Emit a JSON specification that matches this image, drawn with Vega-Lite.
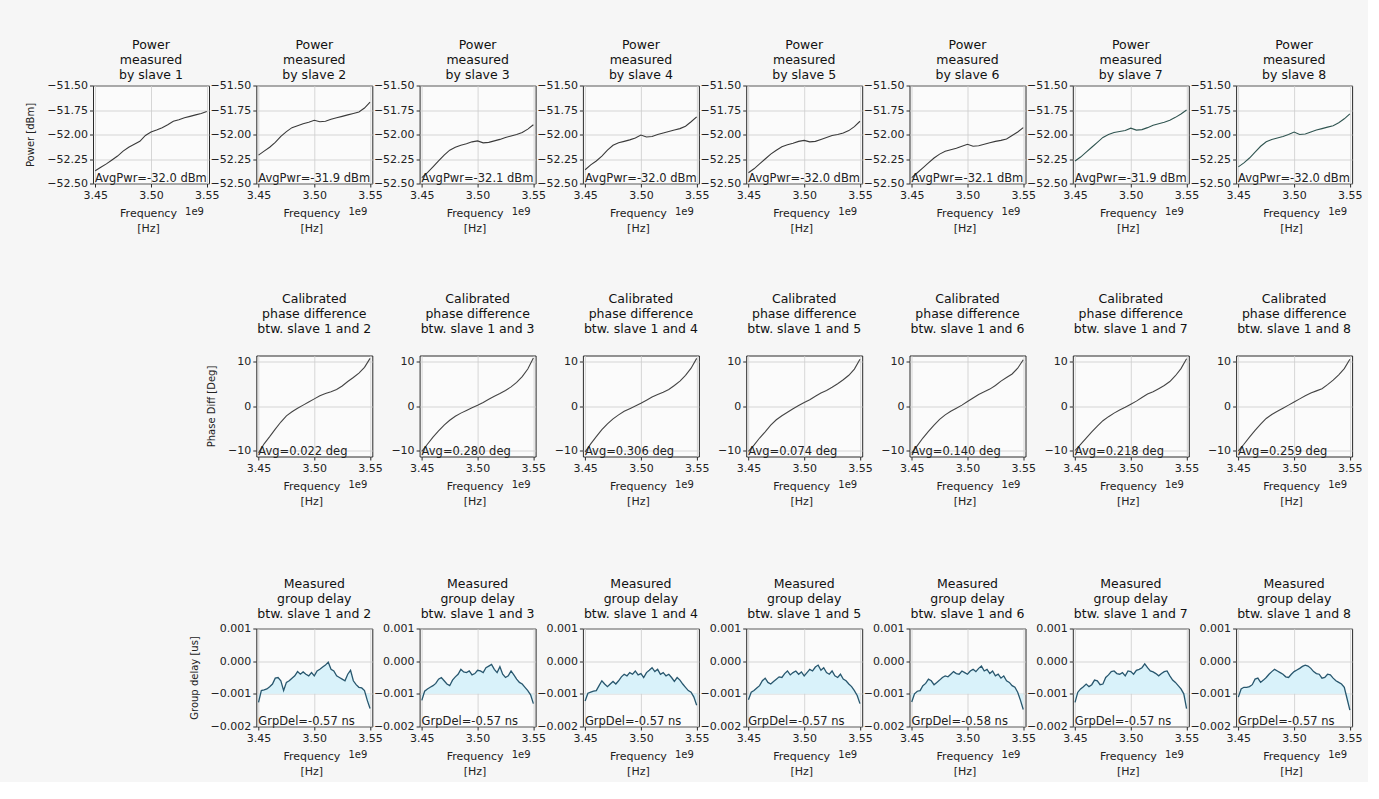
{
"$schema":"https://vega.github.io/schema/vega-lite/v6.json",
"background":"#f6f6f6",
"padding":{"left":25,"top":38.5,"right":5,"bottom":5},
"config":{"font":"DejaVu Sans","view":{"stroke":"#2a2a2a","strokeWidth":1,"fill":"#fbfbfb"},
"axis":{"grid":true,"gridColor":"#cdcdcd","gridWidth":0.8,"domain":false,"tickColor":"#2a2a2a","tickSize":3.5,"labelFontSize":11,"labelColor":"#222","labelPadding":2,"titleFontSize":11,"titleFontWeight":"normal","titleColor":"#222","labelFlush":false,"labelOverlap":false},
"axisY":{"titlePadding":11,"titleFontSize":10},
"axisX":{"titlePadding":7,"titleLineHeight":15,"titleX":55},
"text":{"fontSize":11.5,"color":"#222"},
"title":{"fontSize":12.5,"fontWeight":"normal","color":"#111","lineHeight":15}},
"datasets":{
"pwr":[
{"p":1,"f":3.45,"v":-52.37},{"p":1,"f":3.455,"v":-52.335},{"p":1,"f":3.46,"v":-52.3},{"p":1,"f":3.465,"v":-52.26},{"p":1,"f":3.47,"v":-52.22},{"p":1,"f":3.475,"v":-52.17},{"p":1,"f":3.48,"v":-52.13},{"p":1,"f":3.485,"v":-52.1},{"p":1,"f":3.49,"v":-52.07},{"p":1,"f":3.495,"v":-52.01},{"p":1,"f":3.5,"v":-51.975},{"p":1,"f":3.505,"v":-51.955},{"p":1,"f":3.51,"v":-51.93},{"p":1,"f":3.515,"v":-51.9},{"p":1,"f":3.52,"v":-51.865},{"p":1,"f":3.525,"v":-51.85},{"p":1,"f":3.53,"v":-51.83},{"p":1,"f":3.535,"v":-51.815},{"p":1,"f":3.54,"v":-51.8},{"p":1,"f":3.545,"v":-51.785},{"p":1,"f":3.55,"v":-51.765},
{"p":2,"f":3.45,"v":-52.21},{"p":2,"f":3.455,"v":-52.17},{"p":2,"f":3.46,"v":-52.13},{"p":2,"f":3.465,"v":-52.08},{"p":2,"f":3.47,"v":-52.02},{"p":2,"f":3.475,"v":-51.97},{"p":2,"f":3.48,"v":-51.93},{"p":2,"f":3.485,"v":-51.91},{"p":2,"f":3.49,"v":-51.89},{"p":2,"f":3.495,"v":-51.875},{"p":2,"f":3.5,"v":-51.855},{"p":2,"f":3.505,"v":-51.87},{"p":2,"f":3.51,"v":-51.865},{"p":2,"f":3.515,"v":-51.845},{"p":2,"f":3.52,"v":-51.83},{"p":2,"f":3.525,"v":-51.815},{"p":2,"f":3.53,"v":-51.8},{"p":2,"f":3.535,"v":-51.785},{"p":2,"f":3.54,"v":-51.77},{"p":2,"f":3.545,"v":-51.73},{"p":2,"f":3.55,"v":-51.67},
{"p":3,"f":3.45,"v":-52.44},{"p":3,"f":3.455,"v":-52.39},{"p":3,"f":3.46,"v":-52.33},{"p":3,"f":3.465,"v":-52.27},{"p":3,"f":3.47,"v":-52.21},{"p":3,"f":3.475,"v":-52.16},{"p":3,"f":3.48,"v":-52.13},{"p":3,"f":3.485,"v":-52.11},{"p":3,"f":3.49,"v":-52.095},{"p":3,"f":3.495,"v":-52.075},{"p":3,"f":3.5,"v":-52.065},{"p":3,"f":3.505,"v":-52.085},{"p":3,"f":3.51,"v":-52.08},{"p":3,"f":3.515,"v":-52.065},{"p":3,"f":3.52,"v":-52.05},{"p":3,"f":3.525,"v":-52.03},{"p":3,"f":3.53,"v":-52.015},{"p":3,"f":3.535,"v":-52.0},{"p":3,"f":3.54,"v":-51.98},{"p":3,"f":3.545,"v":-51.945},{"p":3,"f":3.55,"v":-51.9},
{"p":4,"f":3.45,"v":-52.36},{"p":4,"f":3.455,"v":-52.31},{"p":4,"f":3.46,"v":-52.27},{"p":4,"f":3.465,"v":-52.22},{"p":4,"f":3.47,"v":-52.16},{"p":4,"f":3.475,"v":-52.11},{"p":4,"f":3.48,"v":-52.085},{"p":4,"f":3.485,"v":-52.07},{"p":4,"f":3.49,"v":-52.055},{"p":4,"f":3.495,"v":-52.035},{"p":4,"f":3.5,"v":-52.005},{"p":4,"f":3.505,"v":-52.025},{"p":4,"f":3.51,"v":-52.02},{"p":4,"f":3.515,"v":-52.0},{"p":4,"f":3.52,"v":-51.985},{"p":4,"f":3.525,"v":-51.97},{"p":4,"f":3.53,"v":-51.955},{"p":4,"f":3.535,"v":-51.94},{"p":4,"f":3.54,"v":-51.915},{"p":4,"f":3.545,"v":-51.87},{"p":4,"f":3.55,"v":-51.82},
{"p":5,"f":3.45,"v":-52.39},{"p":5,"f":3.455,"v":-52.35},{"p":5,"f":3.46,"v":-52.3},{"p":5,"f":3.465,"v":-52.25},{"p":5,"f":3.47,"v":-52.2},{"p":5,"f":3.475,"v":-52.16},{"p":5,"f":3.48,"v":-52.125},{"p":5,"f":3.485,"v":-52.105},{"p":5,"f":3.49,"v":-52.09},{"p":5,"f":3.495,"v":-52.07},{"p":5,"f":3.5,"v":-52.06},{"p":5,"f":3.505,"v":-52.075},{"p":5,"f":3.51,"v":-52.07},{"p":5,"f":3.515,"v":-52.05},{"p":5,"f":3.52,"v":-52.03},{"p":5,"f":3.525,"v":-52.01},{"p":5,"f":3.53,"v":-52.0},{"p":5,"f":3.535,"v":-51.985},{"p":5,"f":3.54,"v":-51.96},{"p":5,"f":3.545,"v":-51.92},{"p":5,"f":3.55,"v":-51.865},
{"p":6,"f":3.45,"v":-52.44},{"p":6,"f":3.455,"v":-52.39},{"p":6,"f":3.46,"v":-52.34},{"p":6,"f":3.465,"v":-52.29},{"p":6,"f":3.47,"v":-52.24},{"p":6,"f":3.475,"v":-52.2},{"p":6,"f":3.48,"v":-52.17},{"p":6,"f":3.485,"v":-52.155},{"p":6,"f":3.49,"v":-52.14},{"p":6,"f":3.495,"v":-52.12},{"p":6,"f":3.5,"v":-52.1},{"p":6,"f":3.505,"v":-52.12},{"p":6,"f":3.51,"v":-52.115},{"p":6,"f":3.515,"v":-52.1},{"p":6,"f":3.52,"v":-52.085},{"p":6,"f":3.525,"v":-52.07},{"p":6,"f":3.53,"v":-52.06},{"p":6,"f":3.535,"v":-52.045},{"p":6,"f":3.54,"v":-52.01},{"p":6,"f":3.545,"v":-51.975},{"p":6,"f":3.55,"v":-51.93},
{"p":7,"f":3.45,"v":-52.27},{"p":7,"f":3.455,"v":-52.23},{"p":7,"f":3.46,"v":-52.18},{"p":7,"f":3.465,"v":-52.13},{"p":7,"f":3.47,"v":-52.08},{"p":7,"f":3.475,"v":-52.03},{"p":7,"f":3.48,"v":-52.0},{"p":7,"f":3.485,"v":-51.98},{"p":7,"f":3.49,"v":-51.97},{"p":7,"f":3.495,"v":-51.96},{"p":7,"f":3.5,"v":-51.935},{"p":7,"f":3.505,"v":-51.955},{"p":7,"f":3.51,"v":-51.95},{"p":7,"f":3.515,"v":-51.93},{"p":7,"f":3.52,"v":-51.905},{"p":7,"f":3.525,"v":-51.89},{"p":7,"f":3.53,"v":-51.875},{"p":7,"f":3.535,"v":-51.855},{"p":7,"f":3.54,"v":-51.825},{"p":7,"f":3.545,"v":-51.79},{"p":7,"f":3.55,"v":-51.75},
{"p":8,"f":3.45,"v":-52.33},{"p":8,"f":3.455,"v":-52.29},{"p":8,"f":3.46,"v":-52.24},{"p":8,"f":3.465,"v":-52.18},{"p":8,"f":3.47,"v":-52.12},{"p":8,"f":3.475,"v":-52.075},{"p":8,"f":3.48,"v":-52.05},{"p":8,"f":3.485,"v":-52.035},{"p":8,"f":3.49,"v":-52.02},{"p":8,"f":3.495,"v":-52.0},{"p":8,"f":3.5,"v":-51.975},{"p":8,"f":3.505,"v":-52.0},{"p":8,"f":3.51,"v":-51.995},{"p":8,"f":3.515,"v":-51.975},{"p":8,"f":3.52,"v":-51.955},{"p":8,"f":3.525,"v":-51.94},{"p":8,"f":3.53,"v":-51.925},{"p":8,"f":3.535,"v":-51.91},{"p":8,"f":3.54,"v":-51.88},{"p":8,"f":3.545,"v":-51.84},{"p":8,"f":3.55,"v":-51.79}
],
"phs":[
{"p":2,"f":3.45,"v":-10.5},{"p":2,"f":3.455,"v":-8.5},{"p":2,"f":3.46,"v":-6.9},{"p":2,"f":3.465,"v":-5.2},{"p":2,"f":3.47,"v":-3.6},{"p":2,"f":3.475,"v":-2.2},{"p":2,"f":3.48,"v":-1.3},{"p":2,"f":3.485,"v":-0.5},{"p":2,"f":3.49,"v":0.2},{"p":2,"f":3.495,"v":0.9},{"p":2,"f":3.5,"v":1.6},{"p":2,"f":3.505,"v":2.3},{"p":2,"f":3.51,"v":2.8},{"p":2,"f":3.515,"v":3.2},{"p":2,"f":3.52,"v":3.7},{"p":2,"f":3.525,"v":4.5},{"p":2,"f":3.53,"v":5.5},{"p":2,"f":3.535,"v":6.4},{"p":2,"f":3.54,"v":7.4},{"p":2,"f":3.545,"v":8.7},{"p":2,"f":3.55,"v":10.7},
{"p":3,"f":3.45,"v":-10.2},{"p":3,"f":3.455,"v":-8.6},{"p":3,"f":3.46,"v":-7.0},{"p":3,"f":3.465,"v":-5.6},{"p":3,"f":3.47,"v":-4.3},{"p":3,"f":3.475,"v":-3.2},{"p":3,"f":3.48,"v":-2.3},{"p":3,"f":3.485,"v":-1.6},{"p":3,"f":3.49,"v":-1.0},{"p":3,"f":3.495,"v":-0.4},{"p":3,"f":3.5,"v":0.15},{"p":3,"f":3.505,"v":0.8},{"p":3,"f":3.51,"v":1.5},{"p":3,"f":3.515,"v":2.2},{"p":3,"f":3.52,"v":2.8},{"p":3,"f":3.525,"v":3.5},{"p":3,"f":3.53,"v":4.3},{"p":3,"f":3.535,"v":5.3},{"p":3,"f":3.54,"v":6.6},{"p":3,"f":3.545,"v":8.3},{"p":3,"f":3.55,"v":10.8},
{"p":4,"f":3.45,"v":-10.3},{"p":4,"f":3.455,"v":-8.5},{"p":4,"f":3.46,"v":-6.9},{"p":4,"f":3.465,"v":-5.3},{"p":4,"f":3.47,"v":-4.0},{"p":4,"f":3.475,"v":-2.9},{"p":4,"f":3.48,"v":-2.0},{"p":4,"f":3.485,"v":-1.2},{"p":4,"f":3.49,"v":-0.6},{"p":4,"f":3.495,"v":0.0},{"p":4,"f":3.5,"v":0.6},{"p":4,"f":3.505,"v":1.3},{"p":4,"f":3.51,"v":2.0},{"p":4,"f":3.515,"v":2.6},{"p":4,"f":3.52,"v":3.1},{"p":4,"f":3.525,"v":3.7},{"p":4,"f":3.53,"v":4.6},{"p":4,"f":3.535,"v":5.6},{"p":4,"f":3.54,"v":6.9},{"p":4,"f":3.545,"v":8.5},{"p":4,"f":3.55,"v":10.7},
{"p":5,"f":3.45,"v":-10.2},{"p":5,"f":3.455,"v":-8.8},{"p":5,"f":3.46,"v":-7.2},{"p":5,"f":3.465,"v":-5.8},{"p":5,"f":3.47,"v":-4.3},{"p":5,"f":3.475,"v":-3.1},{"p":5,"f":3.48,"v":-2.2},{"p":5,"f":3.485,"v":-1.4},{"p":5,"f":3.49,"v":-0.6},{"p":5,"f":3.495,"v":0.1},{"p":5,"f":3.5,"v":0.8},{"p":5,"f":3.505,"v":1.4},{"p":5,"f":3.51,"v":2.2},{"p":5,"f":3.515,"v":2.9},{"p":5,"f":3.52,"v":3.5},{"p":5,"f":3.525,"v":4.2},{"p":5,"f":3.53,"v":5.0},{"p":5,"f":3.535,"v":5.9},{"p":5,"f":3.54,"v":6.9},{"p":5,"f":3.545,"v":8.3},{"p":5,"f":3.55,"v":10.5},
{"p":6,"f":3.45,"v":-10.6},{"p":6,"f":3.455,"v":-8.9},{"p":6,"f":3.46,"v":-7.2},{"p":6,"f":3.465,"v":-5.7},{"p":6,"f":3.47,"v":-4.3},{"p":6,"f":3.475,"v":-3.0},{"p":6,"f":3.48,"v":-2.0},{"p":6,"f":3.485,"v":-1.2},{"p":6,"f":3.49,"v":-0.5},{"p":6,"f":3.495,"v":0.2},{"p":6,"f":3.5,"v":1.0},{"p":6,"f":3.505,"v":1.8},{"p":6,"f":3.51,"v":2.6},{"p":6,"f":3.515,"v":3.2},{"p":6,"f":3.52,"v":3.8},{"p":6,"f":3.525,"v":4.6},{"p":6,"f":3.53,"v":5.6},{"p":6,"f":3.535,"v":6.4},{"p":6,"f":3.54,"v":7.2},{"p":6,"f":3.545,"v":8.5},{"p":6,"f":3.55,"v":10.4},
{"p":7,"f":3.45,"v":-10.0},{"p":7,"f":3.455,"v":-8.6},{"p":7,"f":3.46,"v":-7.2},{"p":7,"f":3.465,"v":-5.8},{"p":7,"f":3.47,"v":-4.5},{"p":7,"f":3.475,"v":-3.3},{"p":7,"f":3.48,"v":-2.4},{"p":7,"f":3.485,"v":-1.6},{"p":7,"f":3.49,"v":-0.9},{"p":7,"f":3.495,"v":-0.3},{"p":7,"f":3.5,"v":0.4},{"p":7,"f":3.505,"v":1.1},{"p":7,"f":3.51,"v":1.9},{"p":7,"f":3.515,"v":2.7},{"p":7,"f":3.52,"v":3.2},{"p":7,"f":3.525,"v":3.9},{"p":7,"f":3.53,"v":4.6},{"p":7,"f":3.535,"v":5.5},{"p":7,"f":3.54,"v":6.8},{"p":7,"f":3.545,"v":8.4},{"p":7,"f":3.55,"v":10.6},
{"p":8,"f":3.45,"v":-10.1},{"p":8,"f":3.455,"v":-8.6},{"p":8,"f":3.46,"v":-7.0},{"p":8,"f":3.465,"v":-5.5},{"p":8,"f":3.47,"v":-4.1},{"p":8,"f":3.475,"v":-2.8},{"p":8,"f":3.48,"v":-1.9},{"p":8,"f":3.485,"v":-1.2},{"p":8,"f":3.49,"v":-0.5},{"p":8,"f":3.495,"v":0.2},{"p":8,"f":3.5,"v":0.9},{"p":8,"f":3.505,"v":1.6},{"p":8,"f":3.51,"v":2.3},{"p":8,"f":3.515,"v":2.9},{"p":8,"f":3.52,"v":3.4},{"p":8,"f":3.525,"v":3.9},{"p":8,"f":3.53,"v":4.8},{"p":8,"f":3.535,"v":5.8},{"p":8,"f":3.54,"v":7.0},{"p":8,"f":3.545,"v":8.4},{"p":8,"f":3.55,"v":10.5}
],
"gd":[
{"p":2,"f":3.45,"v":-0.00126},{"p":2,"f":3.4525,"v":-0.0009},{"p":2,"f":3.455,"v":-0.00088},{"p":2,"f":3.4575,"v":-0.00085},{"p":2,"f":3.46,"v":-0.00078},{"p":2,"f":3.4625,"v":-0.0007},{"p":2,"f":3.465,"v":-0.00052},{"p":2,"f":3.4675,"v":-0.0005},{"p":2,"f":3.47,"v":-0.0006},{"p":2,"f":3.4725,"v":-0.0009},{"p":2,"f":3.475,"v":-0.00065},{"p":2,"f":3.4775,"v":-0.0006},{"p":2,"f":3.48,"v":-0.00052},{"p":2,"f":3.4825,"v":-0.00045},{"p":2,"f":3.485,"v":-0.00032},{"p":2,"f":3.4875,"v":-0.0004},{"p":2,"f":3.49,"v":-0.00033},{"p":2,"f":3.4925,"v":-0.0004},{"p":2,"f":3.495,"v":-0.00045},{"p":2,"f":3.4975,"v":-0.00035},{"p":2,"f":3.5,"v":-0.00045},{"p":2,"f":3.5025,"v":-0.0003},{"p":2,"f":3.505,"v":-0.00025},{"p":2,"f":3.5075,"v":-0.00018},{"p":2,"f":3.51,"v":-0.00012},{"p":2,"f":3.5125,"v":-0.00003},{"p":2,"f":3.515,"v":-0.00025},{"p":2,"f":3.5175,"v":-0.0003},{"p":2,"f":3.52,"v":-0.00045},{"p":2,"f":3.5225,"v":-0.0005},{"p":2,"f":3.525,"v":-0.00055},{"p":2,"f":3.5275,"v":-0.0006},{"p":2,"f":3.53,"v":-0.0004},{"p":2,"f":3.5325,"v":-0.00028},{"p":2,"f":3.535,"v":-0.0006},{"p":2,"f":3.5375,"v":-0.00072},{"p":2,"f":3.54,"v":-0.0008},{"p":2,"f":3.5425,"v":-0.00082},{"p":2,"f":3.545,"v":-0.0009},{"p":2,"f":3.5475,"v":-0.0012},{"p":2,"f":3.55,"v":-0.00145},
{"p":3,"f":3.45,"v":-0.0012},{"p":3,"f":3.4525,"v":-0.00092},{"p":3,"f":3.455,"v":-0.00085},{"p":3,"f":3.4575,"v":-0.0008},{"p":3,"f":3.46,"v":-0.00075},{"p":3,"f":3.4625,"v":-0.00068},{"p":3,"f":3.465,"v":-0.00055},{"p":3,"f":3.4675,"v":-0.0005},{"p":3,"f":3.47,"v":-0.0006},{"p":3,"f":3.4725,"v":-0.0007},{"p":3,"f":3.475,"v":-0.00075},{"p":3,"f":3.4775,"v":-0.00058},{"p":3,"f":3.48,"v":-0.00048},{"p":3,"f":3.4825,"v":-0.0004},{"p":3,"f":3.485,"v":-0.00025},{"p":3,"f":3.4875,"v":-0.00033},{"p":3,"f":3.49,"v":-0.00035},{"p":3,"f":3.4925,"v":-0.0003},{"p":3,"f":3.495,"v":-0.00042},{"p":3,"f":3.4975,"v":-0.00038},{"p":3,"f":3.5,"v":-0.00028},{"p":3,"f":3.5025,"v":-0.0003},{"p":3,"f":3.505,"v":-0.00035},{"p":3,"f":3.5075,"v":-0.0002},{"p":3,"f":3.51,"v":-0.00015},{"p":3,"f":3.5125,"v":-0.0001},{"p":3,"f":3.515,"v":-0.00025},{"p":3,"f":3.5175,"v":-0.00035},{"p":3,"f":3.52,"v":-0.00017},{"p":3,"f":3.5225,"v":-0.0004},{"p":3,"f":3.525,"v":-0.0005},{"p":3,"f":3.5275,"v":-0.00045},{"p":3,"f":3.53,"v":-0.0003},{"p":3,"f":3.5325,"v":-0.00042},{"p":3,"f":3.535,"v":-0.00055},{"p":3,"f":3.5375,"v":-0.00065},{"p":3,"f":3.54,"v":-0.0007},{"p":3,"f":3.5425,"v":-0.0008},{"p":3,"f":3.545,"v":-0.0009},{"p":3,"f":3.5475,"v":-0.00103},{"p":3,"f":3.55,"v":-0.0013},
{"p":4,"f":3.45,"v":-0.00122},{"p":4,"f":3.4525,"v":-0.00098},{"p":4,"f":3.455,"v":-0.00095},{"p":4,"f":3.4575,"v":-0.00092},{"p":4,"f":3.46,"v":-0.0009},{"p":4,"f":3.4625,"v":-0.00075},{"p":4,"f":3.465,"v":-0.0006},{"p":4,"f":3.4675,"v":-0.0007},{"p":4,"f":3.47,"v":-0.00078},{"p":4,"f":3.4725,"v":-0.0007},{"p":4,"f":3.475,"v":-0.00062},{"p":4,"f":3.4775,"v":-0.0007},{"p":4,"f":3.48,"v":-0.0006},{"p":4,"f":3.4825,"v":-0.00048},{"p":4,"f":3.485,"v":-0.0004},{"p":4,"f":3.4875,"v":-0.00045},{"p":4,"f":3.49,"v":-0.00035},{"p":4,"f":3.4925,"v":-0.0004},{"p":4,"f":3.495,"v":-0.0003},{"p":4,"f":3.4975,"v":-0.00042},{"p":4,"f":3.5,"v":-0.00038},{"p":4,"f":3.5025,"v":-0.0005},{"p":4,"f":3.505,"v":-0.00035},{"p":4,"f":3.5075,"v":-0.00028},{"p":4,"f":3.51,"v":-0.0002},{"p":4,"f":3.5125,"v":-0.00032},{"p":4,"f":3.515,"v":-0.00025},{"p":4,"f":3.5175,"v":-0.0004},{"p":4,"f":3.52,"v":-0.00035},{"p":4,"f":3.5225,"v":-0.00045},{"p":4,"f":3.525,"v":-0.0004},{"p":4,"f":3.5275,"v":-0.0005},{"p":4,"f":3.53,"v":-0.00062},{"p":4,"f":3.5325,"v":-0.0005},{"p":4,"f":3.535,"v":-0.00058},{"p":4,"f":3.5375,"v":-0.0007},{"p":4,"f":3.54,"v":-0.0008},{"p":4,"f":3.5425,"v":-0.0009},{"p":4,"f":3.545,"v":-0.00095},{"p":4,"f":3.5475,"v":-0.0011},{"p":4,"f":3.55,"v":-0.00135},
{"p":5,"f":3.45,"v":-0.00118},{"p":5,"f":3.4525,"v":-0.00095},{"p":5,"f":3.455,"v":-0.0009},{"p":5,"f":3.4575,"v":-0.00082},{"p":5,"f":3.46,"v":-0.00075},{"p":5,"f":3.4625,"v":-0.0006},{"p":5,"f":3.465,"v":-0.00052},{"p":5,"f":3.4675,"v":-0.00065},{"p":5,"f":3.47,"v":-0.0007},{"p":5,"f":3.4725,"v":-0.00062},{"p":5,"f":3.475,"v":-0.00055},{"p":5,"f":3.4775,"v":-0.00048},{"p":5,"f":3.48,"v":-0.0005},{"p":5,"f":3.4825,"v":-0.00038},{"p":5,"f":3.485,"v":-0.0003},{"p":5,"f":3.4875,"v":-0.00042},{"p":5,"f":3.49,"v":-0.00035},{"p":5,"f":3.4925,"v":-0.0003},{"p":5,"f":3.495,"v":-0.0004},{"p":5,"f":3.4975,"v":-0.00033},{"p":5,"f":3.5,"v":-0.00045},{"p":5,"f":3.5025,"v":-0.00035},{"p":5,"f":3.505,"v":-0.00025},{"p":5,"f":3.5075,"v":-0.0003},{"p":5,"f":3.51,"v":-0.00018},{"p":5,"f":3.5125,"v":-0.00012},{"p":5,"f":3.515,"v":-0.00028},{"p":5,"f":3.5175,"v":-0.0002},{"p":5,"f":3.52,"v":-0.00035},{"p":5,"f":3.5225,"v":-0.0004},{"p":5,"f":3.525,"v":-0.0003},{"p":5,"f":3.5275,"v":-0.00045},{"p":5,"f":3.53,"v":-0.0005},{"p":5,"f":3.5325,"v":-0.0004},{"p":5,"f":3.535,"v":-0.00055},{"p":5,"f":3.5375,"v":-0.0006},{"p":5,"f":3.54,"v":-0.0007},{"p":5,"f":3.5425,"v":-0.00078},{"p":5,"f":3.545,"v":-0.0009},{"p":5,"f":3.5475,"v":-0.00105},{"p":5,"f":3.55,"v":-0.0013},
{"p":6,"f":3.45,"v":-0.00125},{"p":6,"f":3.4525,"v":-0.001},{"p":6,"f":3.455,"v":-0.00092},{"p":6,"f":3.4575,"v":-0.0009},{"p":6,"f":3.46,"v":-0.00075},{"p":6,"f":3.4625,"v":-0.00068},{"p":6,"f":3.465,"v":-0.00055},{"p":6,"f":3.4675,"v":-0.0006},{"p":6,"f":3.47,"v":-0.00072},{"p":6,"f":3.4725,"v":-0.00065},{"p":6,"f":3.475,"v":-0.00058},{"p":6,"f":3.4775,"v":-0.0005},{"p":6,"f":3.48,"v":-0.00045},{"p":6,"f":3.4825,"v":-0.00048},{"p":6,"f":3.485,"v":-0.0004},{"p":6,"f":3.4875,"v":-0.00032},{"p":6,"f":3.49,"v":-0.00038},{"p":6,"f":3.4925,"v":-0.0004},{"p":6,"f":3.495,"v":-0.0003},{"p":6,"f":3.4975,"v":-0.00035},{"p":6,"f":3.5,"v":-0.0004},{"p":6,"f":3.5025,"v":-0.0003},{"p":6,"f":3.505,"v":-0.00025},{"p":6,"f":3.5075,"v":-0.00032},{"p":6,"f":3.51,"v":-0.00022},{"p":6,"f":3.5125,"v":-0.00015},{"p":6,"f":3.515,"v":-0.0003},{"p":6,"f":3.5175,"v":-0.00025},{"p":6,"f":3.52,"v":-0.00038},{"p":6,"f":3.5225,"v":-0.0003},{"p":6,"f":3.525,"v":-0.00045},{"p":6,"f":3.5275,"v":-0.0004},{"p":6,"f":3.53,"v":-0.00052},{"p":6,"f":3.5325,"v":-0.00045},{"p":6,"f":3.535,"v":-0.0006},{"p":6,"f":3.5375,"v":-0.00065},{"p":6,"f":3.54,"v":-0.00075},{"p":6,"f":3.5425,"v":-0.0008},{"p":6,"f":3.545,"v":-0.00095},{"p":6,"f":3.5475,"v":-0.0012},{"p":6,"f":3.55,"v":-0.00148},
{"p":7,"f":3.45,"v":-0.00126},{"p":7,"f":3.4525,"v":-0.00095},{"p":7,"f":3.455,"v":-0.00085},{"p":7,"f":3.4575,"v":-0.00078},{"p":7,"f":3.46,"v":-0.0007},{"p":7,"f":3.4625,"v":-0.00078},{"p":7,"f":3.465,"v":-0.00072},{"p":7,"f":3.4675,"v":-0.00058},{"p":7,"f":3.47,"v":-0.0006},{"p":7,"f":3.4725,"v":-0.00072},{"p":7,"f":3.475,"v":-0.0007},{"p":7,"f":3.4775,"v":-0.0005},{"p":7,"f":3.48,"v":-0.00042},{"p":7,"f":3.4825,"v":-0.00032},{"p":7,"f":3.485,"v":-0.0003},{"p":7,"f":3.4875,"v":-0.00038},{"p":7,"f":3.49,"v":-0.0004},{"p":7,"f":3.4925,"v":-0.00035},{"p":7,"f":3.495,"v":-0.00045},{"p":7,"f":3.4975,"v":-0.0003},{"p":7,"f":3.5,"v":-0.00032},{"p":7,"f":3.5025,"v":-0.0004},{"p":7,"f":3.505,"v":-0.00028},{"p":7,"f":3.5075,"v":-0.00025},{"p":7,"f":3.51,"v":-0.0002},{"p":7,"f":3.5125,"v":-0.00008},{"p":7,"f":3.515,"v":-0.0002},{"p":7,"f":3.5175,"v":-0.0003},{"p":7,"f":3.52,"v":-0.00033},{"p":7,"f":3.5225,"v":-0.00038},{"p":7,"f":3.525,"v":-0.00045},{"p":7,"f":3.5275,"v":-0.00038},{"p":7,"f":3.53,"v":-0.00032},{"p":7,"f":3.5325,"v":-0.0003},{"p":7,"f":3.535,"v":-0.00045},{"p":7,"f":3.5375,"v":-0.00058},{"p":7,"f":3.54,"v":-0.00065},{"p":7,"f":3.5425,"v":-0.00075},{"p":7,"f":3.545,"v":-0.00085},{"p":7,"f":3.5475,"v":-0.001},{"p":7,"f":3.55,"v":-0.00145},
{"p":8,"f":3.45,"v":-0.0011},{"p":8,"f":3.4525,"v":-0.00085},{"p":8,"f":3.455,"v":-0.0008},{"p":8,"f":3.4575,"v":-0.0008},{"p":8,"f":3.46,"v":-0.00078},{"p":8,"f":3.4625,"v":-0.00072},{"p":8,"f":3.465,"v":-0.00055},{"p":8,"f":3.4675,"v":-0.00052},{"p":8,"f":3.47,"v":-0.00065},{"p":8,"f":3.4725,"v":-0.00058},{"p":8,"f":3.475,"v":-0.0005},{"p":8,"f":3.4775,"v":-0.0004},{"p":8,"f":3.48,"v":-0.00032},{"p":8,"f":3.4825,"v":-0.00025},{"p":8,"f":3.485,"v":-0.0003},{"p":8,"f":3.4875,"v":-0.00035},{"p":8,"f":3.49,"v":-0.0004},{"p":8,"f":3.4925,"v":-0.00048},{"p":8,"f":3.495,"v":-0.0005},{"p":8,"f":3.4975,"v":-0.0004},{"p":8,"f":3.5,"v":-0.00032},{"p":8,"f":3.5025,"v":-0.00027},{"p":8,"f":3.505,"v":-0.00022},{"p":8,"f":3.5075,"v":-0.00016},{"p":8,"f":3.51,"v":-0.00012},{"p":8,"f":3.5125,"v":-0.00015},{"p":8,"f":3.515,"v":-0.00022},{"p":8,"f":3.5175,"v":-0.00032},{"p":8,"f":3.52,"v":-0.00038},{"p":8,"f":3.5225,"v":-0.0004},{"p":8,"f":3.525,"v":-0.00052},{"p":8,"f":3.5275,"v":-0.0005},{"p":8,"f":3.53,"v":-0.0004},{"p":8,"f":3.5325,"v":-0.00042},{"p":8,"f":3.535,"v":-0.00052},{"p":8,"f":3.5375,"v":-0.0006},{"p":8,"f":3.54,"v":-0.00065},{"p":8,"f":3.5425,"v":-0.0007},{"p":8,"f":3.545,"v":-0.0008},{"p":8,"f":3.5475,"v":-0.00115},{"p":8,"f":3.55,"v":-0.0015}
]},
"columns":8,
"spacing":{"row":172,"column":47.3},
"bounds":"flush",
"concat":[
{"width":116,"height":98,"title":{"text":["Power","measured","by slave 1"],"offset":-2},"layer":[
{"data":{"name":"pwr"},"transform":[{"filter":"datum.p==1"}],"mark":{"type":"line","color":"#3a3a3a","strokeWidth":1.1},"encoding":{"x":{"field":"f","type":"quantitative","scale":{"domain":[3.448,3.552],"nice":false,"zero":false},"axis":{"values":[3.45,3.5,3.55],"format":".2f","title":["Frequency","[Hz]"]}},"y":{"field":"v","type":"quantitative","scale":{"domain":[-52.5,-51.5],"nice":false,"zero":false},"axis":{"values":[-51.5,-51.75,-52,-52.25,-52.5],"format":".2f","title":"Power [dBm]"}}}},
{"data":{"values":[{}]},"mark":{"type":"text","text":"AvgPwr=-32.0 dBm","align":"left","baseline":"alphabetic","dx":2,"dy":-2},"encoding":{"x":{"datum":3.448,"axis":{"values":[3.45,3.5,3.55],"format":".2f","title":["Frequency","[Hz]"]}},"y":{"datum":-52.5,"axis":{"values":[-51.5,-51.75,-52,-52.25,-52.5],"format":".2f","title":"Power [dBm]"}}}},
{"data":{"values":[{}]},"mark":{"type":"text","text":"1e9","align":"right","baseline":"middle","fontSize":10,"dx":-5,"dy":28},"encoding":{"x":{"datum":3.552,"axis":{"values":[3.45,3.5,3.55],"format":".2f","title":["Frequency","[Hz]"]}},"y":{"datum":-52.5,"axis":{"values":[-51.5,-51.75,-52,-52.25,-52.5],"format":".2f","title":"Power [dBm]"}}}}]},
{"width":116,"height":98,"title":{"text":["Power","measured","by slave 2"],"offset":-2},"layer":[
{"data":{"name":"pwr"},"transform":[{"filter":"datum.p==2"}],"mark":{"type":"line","color":"#3a3a3a","strokeWidth":1.1},"encoding":{"x":{"field":"f","type":"quantitative","scale":{"domain":[3.448,3.552],"nice":false,"zero":false},"axis":{"values":[3.45,3.5,3.55],"format":".2f","title":["Frequency","[Hz]"]}},"y":{"field":"v","type":"quantitative","scale":{"domain":[-52.5,-51.5],"nice":false,"zero":false},"axis":{"values":[-51.5,-51.75,-52,-52.25,-52.5],"format":".2f","title":null}}}},
{"data":{"values":[{}]},"mark":{"type":"text","text":"AvgPwr=-31.9 dBm","align":"left","baseline":"alphabetic","dx":2,"dy":-2},"encoding":{"x":{"datum":3.448,"axis":{"values":[3.45,3.5,3.55],"format":".2f","title":["Frequency","[Hz]"]}},"y":{"datum":-52.5,"axis":{"values":[-51.5,-51.75,-52,-52.25,-52.5],"format":".2f","title":null}}}},
{"data":{"values":[{}]},"mark":{"type":"text","text":"1e9","align":"right","baseline":"middle","fontSize":10,"dx":-5,"dy":28},"encoding":{"x":{"datum":3.552,"axis":{"values":[3.45,3.5,3.55],"format":".2f","title":["Frequency","[Hz]"]}},"y":{"datum":-52.5,"axis":{"values":[-51.5,-51.75,-52,-52.25,-52.5],"format":".2f","title":null}}}}]},
{"width":116,"height":98,"title":{"text":["Power","measured","by slave 3"],"offset":-2},"layer":[
{"data":{"name":"pwr"},"transform":[{"filter":"datum.p==3"}],"mark":{"type":"line","color":"#3a3a3a","strokeWidth":1.1},"encoding":{"x":{"field":"f","type":"quantitative","scale":{"domain":[3.448,3.552],"nice":false,"zero":false},"axis":{"values":[3.45,3.5,3.55],"format":".2f","title":["Frequency","[Hz]"]}},"y":{"field":"v","type":"quantitative","scale":{"domain":[-52.5,-51.5],"nice":false,"zero":false},"axis":{"values":[-51.5,-51.75,-52,-52.25,-52.5],"format":".2f","title":null}}}},
{"data":{"values":[{}]},"mark":{"type":"text","text":"AvgPwr=-32.1 dBm","align":"left","baseline":"alphabetic","dx":2,"dy":-2},"encoding":{"x":{"datum":3.448,"axis":{"values":[3.45,3.5,3.55],"format":".2f","title":["Frequency","[Hz]"]}},"y":{"datum":-52.5,"axis":{"values":[-51.5,-51.75,-52,-52.25,-52.5],"format":".2f","title":null}}}},
{"data":{"values":[{}]},"mark":{"type":"text","text":"1e9","align":"right","baseline":"middle","fontSize":10,"dx":-5,"dy":28},"encoding":{"x":{"datum":3.552,"axis":{"values":[3.45,3.5,3.55],"format":".2f","title":["Frequency","[Hz]"]}},"y":{"datum":-52.5,"axis":{"values":[-51.5,-51.75,-52,-52.25,-52.5],"format":".2f","title":null}}}}]},
{"width":116,"height":98,"title":{"text":["Power","measured","by slave 4"],"offset":-2},"layer":[
{"data":{"name":"pwr"},"transform":[{"filter":"datum.p==4"}],"mark":{"type":"line","color":"#3a3a3a","strokeWidth":1.1},"encoding":{"x":{"field":"f","type":"quantitative","scale":{"domain":[3.448,3.552],"nice":false,"zero":false},"axis":{"values":[3.45,3.5,3.55],"format":".2f","title":["Frequency","[Hz]"]}},"y":{"field":"v","type":"quantitative","scale":{"domain":[-52.5,-51.5],"nice":false,"zero":false},"axis":{"values":[-51.5,-51.75,-52,-52.25,-52.5],"format":".2f","title":null}}}},
{"data":{"values":[{}]},"mark":{"type":"text","text":"AvgPwr=-32.0 dBm","align":"left","baseline":"alphabetic","dx":2,"dy":-2},"encoding":{"x":{"datum":3.448,"axis":{"values":[3.45,3.5,3.55],"format":".2f","title":["Frequency","[Hz]"]}},"y":{"datum":-52.5,"axis":{"values":[-51.5,-51.75,-52,-52.25,-52.5],"format":".2f","title":null}}}},
{"data":{"values":[{}]},"mark":{"type":"text","text":"1e9","align":"right","baseline":"middle","fontSize":10,"dx":-5,"dy":28},"encoding":{"x":{"datum":3.552,"axis":{"values":[3.45,3.5,3.55],"format":".2f","title":["Frequency","[Hz]"]}},"y":{"datum":-52.5,"axis":{"values":[-51.5,-51.75,-52,-52.25,-52.5],"format":".2f","title":null}}}}]},
{"width":116,"height":98,"title":{"text":["Power","measured","by slave 5"],"offset":-2},"layer":[
{"data":{"name":"pwr"},"transform":[{"filter":"datum.p==5"}],"mark":{"type":"line","color":"#3a3a3a","strokeWidth":1.1},"encoding":{"x":{"field":"f","type":"quantitative","scale":{"domain":[3.448,3.552],"nice":false,"zero":false},"axis":{"values":[3.45,3.5,3.55],"format":".2f","title":["Frequency","[Hz]"]}},"y":{"field":"v","type":"quantitative","scale":{"domain":[-52.5,-51.5],"nice":false,"zero":false},"axis":{"values":[-51.5,-51.75,-52,-52.25,-52.5],"format":".2f","title":null}}}},
{"data":{"values":[{}]},"mark":{"type":"text","text":"AvgPwr=-32.0 dBm","align":"left","baseline":"alphabetic","dx":2,"dy":-2},"encoding":{"x":{"datum":3.448,"axis":{"values":[3.45,3.5,3.55],"format":".2f","title":["Frequency","[Hz]"]}},"y":{"datum":-52.5,"axis":{"values":[-51.5,-51.75,-52,-52.25,-52.5],"format":".2f","title":null}}}},
{"data":{"values":[{}]},"mark":{"type":"text","text":"1e9","align":"right","baseline":"middle","fontSize":10,"dx":-5,"dy":28},"encoding":{"x":{"datum":3.552,"axis":{"values":[3.45,3.5,3.55],"format":".2f","title":["Frequency","[Hz]"]}},"y":{"datum":-52.5,"axis":{"values":[-51.5,-51.75,-52,-52.25,-52.5],"format":".2f","title":null}}}}]},
{"width":116,"height":98,"title":{"text":["Power","measured","by slave 6"],"offset":-2},"layer":[
{"data":{"name":"pwr"},"transform":[{"filter":"datum.p==6"}],"mark":{"type":"line","color":"#3a3a3a","strokeWidth":1.1},"encoding":{"x":{"field":"f","type":"quantitative","scale":{"domain":[3.448,3.552],"nice":false,"zero":false},"axis":{"values":[3.45,3.5,3.55],"format":".2f","title":["Frequency","[Hz]"]}},"y":{"field":"v","type":"quantitative","scale":{"domain":[-52.5,-51.5],"nice":false,"zero":false},"axis":{"values":[-51.5,-51.75,-52,-52.25,-52.5],"format":".2f","title":null}}}},
{"data":{"values":[{}]},"mark":{"type":"text","text":"AvgPwr=-32.1 dBm","align":"left","baseline":"alphabetic","dx":2,"dy":-2},"encoding":{"x":{"datum":3.448,"axis":{"values":[3.45,3.5,3.55],"format":".2f","title":["Frequency","[Hz]"]}},"y":{"datum":-52.5,"axis":{"values":[-51.5,-51.75,-52,-52.25,-52.5],"format":".2f","title":null}}}},
{"data":{"values":[{}]},"mark":{"type":"text","text":"1e9","align":"right","baseline":"middle","fontSize":10,"dx":-5,"dy":28},"encoding":{"x":{"datum":3.552,"axis":{"values":[3.45,3.5,3.55],"format":".2f","title":["Frequency","[Hz]"]}},"y":{"datum":-52.5,"axis":{"values":[-51.5,-51.75,-52,-52.25,-52.5],"format":".2f","title":null}}}}]},
{"width":116,"height":98,"title":{"text":["Power","measured","by slave 7"],"offset":-2},"layer":[
{"data":{"name":"pwr"},"transform":[{"filter":"datum.p==7"}],"mark":{"type":"line","color":"#2f5450","strokeWidth":1.1},"encoding":{"x":{"field":"f","type":"quantitative","scale":{"domain":[3.448,3.552],"nice":false,"zero":false},"axis":{"values":[3.45,3.5,3.55],"format":".2f","title":["Frequency","[Hz]"]}},"y":{"field":"v","type":"quantitative","scale":{"domain":[-52.5,-51.5],"nice":false,"zero":false},"axis":{"values":[-51.5,-51.75,-52,-52.25,-52.5],"format":".2f","title":null}}}},
{"data":{"values":[{}]},"mark":{"type":"text","text":"AvgPwr=-31.9 dBm","align":"left","baseline":"alphabetic","dx":2,"dy":-2},"encoding":{"x":{"datum":3.448,"axis":{"values":[3.45,3.5,3.55],"format":".2f","title":["Frequency","[Hz]"]}},"y":{"datum":-52.5,"axis":{"values":[-51.5,-51.75,-52,-52.25,-52.5],"format":".2f","title":null}}}},
{"data":{"values":[{}]},"mark":{"type":"text","text":"1e9","align":"right","baseline":"middle","fontSize":10,"dx":-5,"dy":28},"encoding":{"x":{"datum":3.552,"axis":{"values":[3.45,3.5,3.55],"format":".2f","title":["Frequency","[Hz]"]}},"y":{"datum":-52.5,"axis":{"values":[-51.5,-51.75,-52,-52.25,-52.5],"format":".2f","title":null}}}}]},
{"width":116,"height":98,"title":{"text":["Power","measured","by slave 8"],"offset":-2},"layer":[
{"data":{"name":"pwr"},"transform":[{"filter":"datum.p==8"}],"mark":{"type":"line","color":"#2f5450","strokeWidth":1.1},"encoding":{"x":{"field":"f","type":"quantitative","scale":{"domain":[3.448,3.552],"nice":false,"zero":false},"axis":{"values":[3.45,3.5,3.55],"format":".2f","title":["Frequency","[Hz]"]}},"y":{"field":"v","type":"quantitative","scale":{"domain":[-52.5,-51.5],"nice":false,"zero":false},"axis":{"values":[-51.5,-51.75,-52,-52.25,-52.5],"format":".2f","title":null}}}},
{"data":{"values":[{}]},"mark":{"type":"text","text":"AvgPwr=-32.0 dBm","align":"left","baseline":"alphabetic","dx":2,"dy":-2},"encoding":{"x":{"datum":3.448,"axis":{"values":[3.45,3.5,3.55],"format":".2f","title":["Frequency","[Hz]"]}},"y":{"datum":-52.5,"axis":{"values":[-51.5,-51.75,-52,-52.25,-52.5],"format":".2f","title":null}}}},
{"data":{"values":[{}]},"mark":{"type":"text","text":"1e9","align":"right","baseline":"middle","fontSize":10,"dx":-5,"dy":28},"encoding":{"x":{"datum":3.552,"axis":{"values":[3.45,3.5,3.55],"format":".2f","title":["Frequency","[Hz]"]}},"y":{"datum":-52.5,"axis":{"values":[-51.5,-51.75,-52,-52.25,-52.5],"format":".2f","title":null}}}}]},

{"width":116,"height":101,"data":{"values":[{}]},"mark":{"type":"point","opacity":0},"encoding":{},"view":{"stroke":null,"fill":null}},

{"width":116,"height":101,"title":{"text":["Calibrated","phase difference","btw. slave 1 and 2"],"offset":20},"layer":[
{"data":{"name":"phs"},"transform":[{"filter":"datum.p==2"}],"mark":{"type":"line","color":"#444","strokeWidth":1.1},"encoding":{"x":{"field":"f","type":"quantitative","scale":{"domain":[3.448,3.552],"nice":false,"zero":false},"axis":{"values":[3.45,3.5,3.55],"format":".2f","title":["Frequency","[Hz]"]}},"y":{"field":"v","type":"quantitative","scale":{"domain":[-11.35,11.35],"nice":false,"zero":false},"axis":{"values":[-10,0,10],"format":"d","title":"Phase Diff [Deg]"}}}},
{"data":{"values":[{}]},"mark":{"type":"text","text":"Avg=0.022 deg","align":"left","baseline":"alphabetic","dx":2,"dy":-2},"encoding":{"x":{"datum":3.448,"axis":{"values":[3.45,3.5,3.55],"format":".2f","title":["Frequency","[Hz]"]}},"y":{"datum":-11.35,"axis":{"values":[-10,0,10],"format":"d","title":"Phase Diff [Deg]"}}}},
{"data":{"values":[{}]},"mark":{"type":"text","text":"1e9","align":"right","baseline":"middle","fontSize":10,"dx":-5,"dy":28},"encoding":{"x":{"datum":3.552,"axis":{"values":[3.45,3.5,3.55],"format":".2f","title":["Frequency","[Hz]"]}},"y":{"datum":-11.35,"axis":{"values":[-10,0,10],"format":"d","title":"Phase Diff [Deg]"}}}}]},
{"width":116,"height":101,"title":{"text":["Calibrated","phase difference","btw. slave 1 and 3"],"offset":20},"layer":[
{"data":{"name":"phs"},"transform":[{"filter":"datum.p==3"}],"mark":{"type":"line","color":"#444","strokeWidth":1.1},"encoding":{"x":{"field":"f","type":"quantitative","scale":{"domain":[3.448,3.552],"nice":false,"zero":false},"axis":{"values":[3.45,3.5,3.55],"format":".2f","title":["Frequency","[Hz]"]}},"y":{"field":"v","type":"quantitative","scale":{"domain":[-11.35,11.35],"nice":false,"zero":false},"axis":{"values":[-10,0,10],"format":"d","title":null}}}},
{"data":{"values":[{}]},"mark":{"type":"text","text":"Avg=0.280 deg","align":"left","baseline":"alphabetic","dx":2,"dy":-2},"encoding":{"x":{"datum":3.448,"axis":{"values":[3.45,3.5,3.55],"format":".2f","title":["Frequency","[Hz]"]}},"y":{"datum":-11.35,"axis":{"values":[-10,0,10],"format":"d","title":null}}}},
{"data":{"values":[{}]},"mark":{"type":"text","text":"1e9","align":"right","baseline":"middle","fontSize":10,"dx":-5,"dy":28},"encoding":{"x":{"datum":3.552,"axis":{"values":[3.45,3.5,3.55],"format":".2f","title":["Frequency","[Hz]"]}},"y":{"datum":-11.35,"axis":{"values":[-10,0,10],"format":"d","title":null}}}}]},
{"width":116,"height":101,"title":{"text":["Calibrated","phase difference","btw. slave 1 and 4"],"offset":20},"layer":[
{"data":{"name":"phs"},"transform":[{"filter":"datum.p==4"}],"mark":{"type":"line","color":"#444","strokeWidth":1.1},"encoding":{"x":{"field":"f","type":"quantitative","scale":{"domain":[3.448,3.552],"nice":false,"zero":false},"axis":{"values":[3.45,3.5,3.55],"format":".2f","title":["Frequency","[Hz]"]}},"y":{"field":"v","type":"quantitative","scale":{"domain":[-11.35,11.35],"nice":false,"zero":false},"axis":{"values":[-10,0,10],"format":"d","title":null}}}},
{"data":{"values":[{}]},"mark":{"type":"text","text":"Avg=0.306 deg","align":"left","baseline":"alphabetic","dx":2,"dy":-2},"encoding":{"x":{"datum":3.448,"axis":{"values":[3.45,3.5,3.55],"format":".2f","title":["Frequency","[Hz]"]}},"y":{"datum":-11.35,"axis":{"values":[-10,0,10],"format":"d","title":null}}}},
{"data":{"values":[{}]},"mark":{"type":"text","text":"1e9","align":"right","baseline":"middle","fontSize":10,"dx":-5,"dy":28},"encoding":{"x":{"datum":3.552,"axis":{"values":[3.45,3.5,3.55],"format":".2f","title":["Frequency","[Hz]"]}},"y":{"datum":-11.35,"axis":{"values":[-10,0,10],"format":"d","title":null}}}}]},
{"width":116,"height":101,"title":{"text":["Calibrated","phase difference","btw. slave 1 and 5"],"offset":20},"layer":[
{"data":{"name":"phs"},"transform":[{"filter":"datum.p==5"}],"mark":{"type":"line","color":"#444","strokeWidth":1.1},"encoding":{"x":{"field":"f","type":"quantitative","scale":{"domain":[3.448,3.552],"nice":false,"zero":false},"axis":{"values":[3.45,3.5,3.55],"format":".2f","title":["Frequency","[Hz]"]}},"y":{"field":"v","type":"quantitative","scale":{"domain":[-11.35,11.35],"nice":false,"zero":false},"axis":{"values":[-10,0,10],"format":"d","title":null}}}},
{"data":{"values":[{}]},"mark":{"type":"text","text":"Avg=0.074 deg","align":"left","baseline":"alphabetic","dx":2,"dy":-2},"encoding":{"x":{"datum":3.448,"axis":{"values":[3.45,3.5,3.55],"format":".2f","title":["Frequency","[Hz]"]}},"y":{"datum":-11.35,"axis":{"values":[-10,0,10],"format":"d","title":null}}}},
{"data":{"values":[{}]},"mark":{"type":"text","text":"1e9","align":"right","baseline":"middle","fontSize":10,"dx":-5,"dy":28},"encoding":{"x":{"datum":3.552,"axis":{"values":[3.45,3.5,3.55],"format":".2f","title":["Frequency","[Hz]"]}},"y":{"datum":-11.35,"axis":{"values":[-10,0,10],"format":"d","title":null}}}}]},
{"width":116,"height":101,"title":{"text":["Calibrated","phase difference","btw. slave 1 and 6"],"offset":20},"layer":[
{"data":{"name":"phs"},"transform":[{"filter":"datum.p==6"}],"mark":{"type":"line","color":"#444","strokeWidth":1.1},"encoding":{"x":{"field":"f","type":"quantitative","scale":{"domain":[3.448,3.552],"nice":false,"zero":false},"axis":{"values":[3.45,3.5,3.55],"format":".2f","title":["Frequency","[Hz]"]}},"y":{"field":"v","type":"quantitative","scale":{"domain":[-11.35,11.35],"nice":false,"zero":false},"axis":{"values":[-10,0,10],"format":"d","title":null}}}},
{"data":{"values":[{}]},"mark":{"type":"text","text":"Avg=0.140 deg","align":"left","baseline":"alphabetic","dx":2,"dy":-2},"encoding":{"x":{"datum":3.448,"axis":{"values":[3.45,3.5,3.55],"format":".2f","title":["Frequency","[Hz]"]}},"y":{"datum":-11.35,"axis":{"values":[-10,0,10],"format":"d","title":null}}}},
{"data":{"values":[{}]},"mark":{"type":"text","text":"1e9","align":"right","baseline":"middle","fontSize":10,"dx":-5,"dy":28},"encoding":{"x":{"datum":3.552,"axis":{"values":[3.45,3.5,3.55],"format":".2f","title":["Frequency","[Hz]"]}},"y":{"datum":-11.35,"axis":{"values":[-10,0,10],"format":"d","title":null}}}}]},
{"width":116,"height":101,"title":{"text":["Calibrated","phase difference","btw. slave 1 and 7"],"offset":20},"layer":[
{"data":{"name":"phs"},"transform":[{"filter":"datum.p==7"}],"mark":{"type":"line","color":"#444","strokeWidth":1.1},"encoding":{"x":{"field":"f","type":"quantitative","scale":{"domain":[3.448,3.552],"nice":false,"zero":false},"axis":{"values":[3.45,3.5,3.55],"format":".2f","title":["Frequency","[Hz]"]}},"y":{"field":"v","type":"quantitative","scale":{"domain":[-11.35,11.35],"nice":false,"zero":false},"axis":{"values":[-10,0,10],"format":"d","title":null}}}},
{"data":{"values":[{}]},"mark":{"type":"text","text":"Avg=0.218 deg","align":"left","baseline":"alphabetic","dx":2,"dy":-2},"encoding":{"x":{"datum":3.448,"axis":{"values":[3.45,3.5,3.55],"format":".2f","title":["Frequency","[Hz]"]}},"y":{"datum":-11.35,"axis":{"values":[-10,0,10],"format":"d","title":null}}}},
{"data":{"values":[{}]},"mark":{"type":"text","text":"1e9","align":"right","baseline":"middle","fontSize":10,"dx":-5,"dy":28},"encoding":{"x":{"datum":3.552,"axis":{"values":[3.45,3.5,3.55],"format":".2f","title":["Frequency","[Hz]"]}},"y":{"datum":-11.35,"axis":{"values":[-10,0,10],"format":"d","title":null}}}}]},
{"width":116,"height":101,"title":{"text":["Calibrated","phase difference","btw. slave 1 and 8"],"offset":20},"layer":[
{"data":{"name":"phs"},"transform":[{"filter":"datum.p==8"}],"mark":{"type":"line","color":"#444","strokeWidth":1.1},"encoding":{"x":{"field":"f","type":"quantitative","scale":{"domain":[3.448,3.552],"nice":false,"zero":false},"axis":{"values":[3.45,3.5,3.55],"format":".2f","title":["Frequency","[Hz]"]}},"y":{"field":"v","type":"quantitative","scale":{"domain":[-11.35,11.35],"nice":false,"zero":false},"axis":{"values":[-10,0,10],"format":"d","title":null}}}},
{"data":{"values":[{}]},"mark":{"type":"text","text":"Avg=0.259 deg","align":"left","baseline":"alphabetic","dx":2,"dy":-2},"encoding":{"x":{"datum":3.448,"axis":{"values":[3.45,3.5,3.55],"format":".2f","title":["Frequency","[Hz]"]}},"y":{"datum":-11.35,"axis":{"values":[-10,0,10],"format":"d","title":null}}}},
{"data":{"values":[{}]},"mark":{"type":"text","text":"1e9","align":"right","baseline":"middle","fontSize":10,"dx":-5,"dy":28},"encoding":{"x":{"datum":3.552,"axis":{"values":[3.45,3.5,3.55],"format":".2f","title":["Frequency","[Hz]"]}},"y":{"datum":-11.35,"axis":{"values":[-10,0,10],"format":"d","title":null}}}}]},

{"width":116,"height":98,"data":{"values":[{}]},"mark":{"type":"point","opacity":0},"encoding":{},"view":{"stroke":null,"fill":null}},

{"width":116,"height":98,"title":{"text":["Measured","group delay","btw. slave 1 and 2"],"offset":2},"layer":[
{"data":{"name":"gd"},"transform":[{"filter":"datum.p==2"}],"mark":{"type":"area","color":"#d9f2fa"},"encoding":{"x":{"field":"f","type":"quantitative","scale":{"domain":[3.448,3.552],"nice":false,"zero":false},"axis":{"values":[3.45,3.5,3.55],"format":".2f","title":["Frequency","[Hz]"]}},"y":{"field":"v","type":"quantitative","scale":{"domain":[-0.002,0.001],"nice":false,"zero":false},"axis":{"values":[0.001,0,-0.001,-0.002],"format":".3f","title":"Group delay [us]"}},"y2":{"datum":-0.001}}},
{"data":{"name":"gd"},"transform":[{"filter":"datum.p==2"}],"mark":{"type":"line","color":"#28576e","strokeWidth":1.3},"encoding":{"x":{"field":"f","type":"quantitative","axis":{"values":[3.45,3.5,3.55],"format":".2f","title":["Frequency","[Hz]"]}},"y":{"field":"v","type":"quantitative","axis":{"values":[0.001,0,-0.001,-0.002],"format":".3f","title":"Group delay [us]"}}}},
{"data":{"values":[{}]},"mark":{"type":"text","text":"GrpDel=-0.57 ns","align":"left","baseline":"alphabetic","dx":2,"dy":-2},"encoding":{"x":{"datum":3.448,"axis":{"values":[3.45,3.5,3.55],"format":".2f","title":["Frequency","[Hz]"]}},"y":{"datum":-0.002,"axis":{"values":[0.001,0,-0.001,-0.002],"format":".3f","title":"Group delay [us]"}}}},
{"data":{"values":[{}]},"mark":{"type":"text","text":"1e9","align":"right","baseline":"middle","fontSize":10,"dx":-5,"dy":28},"encoding":{"x":{"datum":3.552,"axis":{"values":[3.45,3.5,3.55],"format":".2f","title":["Frequency","[Hz]"]}},"y":{"datum":-0.002,"axis":{"values":[0.001,0,-0.001,-0.002],"format":".3f","title":"Group delay [us]"}}}}]},
{"width":116,"height":98,"title":{"text":["Measured","group delay","btw. slave 1 and 3"],"offset":2},"layer":[
{"data":{"name":"gd"},"transform":[{"filter":"datum.p==3"}],"mark":{"type":"area","color":"#d9f2fa"},"encoding":{"x":{"field":"f","type":"quantitative","scale":{"domain":[3.448,3.552],"nice":false,"zero":false},"axis":{"values":[3.45,3.5,3.55],"format":".2f","title":["Frequency","[Hz]"]}},"y":{"field":"v","type":"quantitative","scale":{"domain":[-0.002,0.001],"nice":false,"zero":false},"axis":{"values":[0.001,0,-0.001,-0.002],"format":".3f","title":null}},"y2":{"datum":-0.001}}},
{"data":{"name":"gd"},"transform":[{"filter":"datum.p==3"}],"mark":{"type":"line","color":"#28576e","strokeWidth":1.3},"encoding":{"x":{"field":"f","type":"quantitative","axis":{"values":[3.45,3.5,3.55],"format":".2f","title":["Frequency","[Hz]"]}},"y":{"field":"v","type":"quantitative","axis":{"values":[0.001,0,-0.001,-0.002],"format":".3f","title":null}}}},
{"data":{"values":[{}]},"mark":{"type":"text","text":"GrpDel=-0.57 ns","align":"left","baseline":"alphabetic","dx":2,"dy":-2},"encoding":{"x":{"datum":3.448,"axis":{"values":[3.45,3.5,3.55],"format":".2f","title":["Frequency","[Hz]"]}},"y":{"datum":-0.002,"axis":{"values":[0.001,0,-0.001,-0.002],"format":".3f","title":null}}}},
{"data":{"values":[{}]},"mark":{"type":"text","text":"1e9","align":"right","baseline":"middle","fontSize":10,"dx":-5,"dy":28},"encoding":{"x":{"datum":3.552,"axis":{"values":[3.45,3.5,3.55],"format":".2f","title":["Frequency","[Hz]"]}},"y":{"datum":-0.002,"axis":{"values":[0.001,0,-0.001,-0.002],"format":".3f","title":null}}}}]},
{"width":116,"height":98,"title":{"text":["Measured","group delay","btw. slave 1 and 4"],"offset":2},"layer":[
{"data":{"name":"gd"},"transform":[{"filter":"datum.p==4"}],"mark":{"type":"area","color":"#d9f2fa"},"encoding":{"x":{"field":"f","type":"quantitative","scale":{"domain":[3.448,3.552],"nice":false,"zero":false},"axis":{"values":[3.45,3.5,3.55],"format":".2f","title":["Frequency","[Hz]"]}},"y":{"field":"v","type":"quantitative","scale":{"domain":[-0.002,0.001],"nice":false,"zero":false},"axis":{"values":[0.001,0,-0.001,-0.002],"format":".3f","title":null}},"y2":{"datum":-0.001}}},
{"data":{"name":"gd"},"transform":[{"filter":"datum.p==4"}],"mark":{"type":"line","color":"#28576e","strokeWidth":1.3},"encoding":{"x":{"field":"f","type":"quantitative","axis":{"values":[3.45,3.5,3.55],"format":".2f","title":["Frequency","[Hz]"]}},"y":{"field":"v","type":"quantitative","axis":{"values":[0.001,0,-0.001,-0.002],"format":".3f","title":null}}}},
{"data":{"values":[{}]},"mark":{"type":"text","text":"GrpDel=-0.57 ns","align":"left","baseline":"alphabetic","dx":2,"dy":-2},"encoding":{"x":{"datum":3.448,"axis":{"values":[3.45,3.5,3.55],"format":".2f","title":["Frequency","[Hz]"]}},"y":{"datum":-0.002,"axis":{"values":[0.001,0,-0.001,-0.002],"format":".3f","title":null}}}},
{"data":{"values":[{}]},"mark":{"type":"text","text":"1e9","align":"right","baseline":"middle","fontSize":10,"dx":-5,"dy":28},"encoding":{"x":{"datum":3.552,"axis":{"values":[3.45,3.5,3.55],"format":".2f","title":["Frequency","[Hz]"]}},"y":{"datum":-0.002,"axis":{"values":[0.001,0,-0.001,-0.002],"format":".3f","title":null}}}}]},
{"width":116,"height":98,"title":{"text":["Measured","group delay","btw. slave 1 and 5"],"offset":2},"layer":[
{"data":{"name":"gd"},"transform":[{"filter":"datum.p==5"}],"mark":{"type":"area","color":"#d9f2fa"},"encoding":{"x":{"field":"f","type":"quantitative","scale":{"domain":[3.448,3.552],"nice":false,"zero":false},"axis":{"values":[3.45,3.5,3.55],"format":".2f","title":["Frequency","[Hz]"]}},"y":{"field":"v","type":"quantitative","scale":{"domain":[-0.002,0.001],"nice":false,"zero":false},"axis":{"values":[0.001,0,-0.001,-0.002],"format":".3f","title":null}},"y2":{"datum":-0.001}}},
{"data":{"name":"gd"},"transform":[{"filter":"datum.p==5"}],"mark":{"type":"line","color":"#28576e","strokeWidth":1.3},"encoding":{"x":{"field":"f","type":"quantitative","axis":{"values":[3.45,3.5,3.55],"format":".2f","title":["Frequency","[Hz]"]}},"y":{"field":"v","type":"quantitative","axis":{"values":[0.001,0,-0.001,-0.002],"format":".3f","title":null}}}},
{"data":{"values":[{}]},"mark":{"type":"text","text":"GrpDel=-0.57 ns","align":"left","baseline":"alphabetic","dx":2,"dy":-2},"encoding":{"x":{"datum":3.448,"axis":{"values":[3.45,3.5,3.55],"format":".2f","title":["Frequency","[Hz]"]}},"y":{"datum":-0.002,"axis":{"values":[0.001,0,-0.001,-0.002],"format":".3f","title":null}}}},
{"data":{"values":[{}]},"mark":{"type":"text","text":"1e9","align":"right","baseline":"middle","fontSize":10,"dx":-5,"dy":28},"encoding":{"x":{"datum":3.552,"axis":{"values":[3.45,3.5,3.55],"format":".2f","title":["Frequency","[Hz]"]}},"y":{"datum":-0.002,"axis":{"values":[0.001,0,-0.001,-0.002],"format":".3f","title":null}}}}]},
{"width":116,"height":98,"title":{"text":["Measured","group delay","btw. slave 1 and 6"],"offset":2},"layer":[
{"data":{"name":"gd"},"transform":[{"filter":"datum.p==6"}],"mark":{"type":"area","color":"#d9f2fa"},"encoding":{"x":{"field":"f","type":"quantitative","scale":{"domain":[3.448,3.552],"nice":false,"zero":false},"axis":{"values":[3.45,3.5,3.55],"format":".2f","title":["Frequency","[Hz]"]}},"y":{"field":"v","type":"quantitative","scale":{"domain":[-0.002,0.001],"nice":false,"zero":false},"axis":{"values":[0.001,0,-0.001,-0.002],"format":".3f","title":null}},"y2":{"datum":-0.001}}},
{"data":{"name":"gd"},"transform":[{"filter":"datum.p==6"}],"mark":{"type":"line","color":"#28576e","strokeWidth":1.3},"encoding":{"x":{"field":"f","type":"quantitative","axis":{"values":[3.45,3.5,3.55],"format":".2f","title":["Frequency","[Hz]"]}},"y":{"field":"v","type":"quantitative","axis":{"values":[0.001,0,-0.001,-0.002],"format":".3f","title":null}}}},
{"data":{"values":[{}]},"mark":{"type":"text","text":"GrpDel=-0.58 ns","align":"left","baseline":"alphabetic","dx":2,"dy":-2},"encoding":{"x":{"datum":3.448,"axis":{"values":[3.45,3.5,3.55],"format":".2f","title":["Frequency","[Hz]"]}},"y":{"datum":-0.002,"axis":{"values":[0.001,0,-0.001,-0.002],"format":".3f","title":null}}}},
{"data":{"values":[{}]},"mark":{"type":"text","text":"1e9","align":"right","baseline":"middle","fontSize":10,"dx":-5,"dy":28},"encoding":{"x":{"datum":3.552,"axis":{"values":[3.45,3.5,3.55],"format":".2f","title":["Frequency","[Hz]"]}},"y":{"datum":-0.002,"axis":{"values":[0.001,0,-0.001,-0.002],"format":".3f","title":null}}}}]},
{"width":116,"height":98,"title":{"text":["Measured","group delay","btw. slave 1 and 7"],"offset":2},"layer":[
{"data":{"name":"gd"},"transform":[{"filter":"datum.p==7"}],"mark":{"type":"area","color":"#d9f2fa"},"encoding":{"x":{"field":"f","type":"quantitative","scale":{"domain":[3.448,3.552],"nice":false,"zero":false},"axis":{"values":[3.45,3.5,3.55],"format":".2f","title":["Frequency","[Hz]"]}},"y":{"field":"v","type":"quantitative","scale":{"domain":[-0.002,0.001],"nice":false,"zero":false},"axis":{"values":[0.001,0,-0.001,-0.002],"format":".3f","title":null}},"y2":{"datum":-0.001}}},
{"data":{"name":"gd"},"transform":[{"filter":"datum.p==7"}],"mark":{"type":"line","color":"#28576e","strokeWidth":1.3},"encoding":{"x":{"field":"f","type":"quantitative","axis":{"values":[3.45,3.5,3.55],"format":".2f","title":["Frequency","[Hz]"]}},"y":{"field":"v","type":"quantitative","axis":{"values":[0.001,0,-0.001,-0.002],"format":".3f","title":null}}}},
{"data":{"values":[{}]},"mark":{"type":"text","text":"GrpDel=-0.57 ns","align":"left","baseline":"alphabetic","dx":2,"dy":-2},"encoding":{"x":{"datum":3.448,"axis":{"values":[3.45,3.5,3.55],"format":".2f","title":["Frequency","[Hz]"]}},"y":{"datum":-0.002,"axis":{"values":[0.001,0,-0.001,-0.002],"format":".3f","title":null}}}},
{"data":{"values":[{}]},"mark":{"type":"text","text":"1e9","align":"right","baseline":"middle","fontSize":10,"dx":-5,"dy":28},"encoding":{"x":{"datum":3.552,"axis":{"values":[3.45,3.5,3.55],"format":".2f","title":["Frequency","[Hz]"]}},"y":{"datum":-0.002,"axis":{"values":[0.001,0,-0.001,-0.002],"format":".3f","title":null}}}}]},
{"width":116,"height":98,"title":{"text":["Measured","group delay","btw. slave 1 and 8"],"offset":2},"layer":[
{"data":{"name":"gd"},"transform":[{"filter":"datum.p==8"}],"mark":{"type":"area","color":"#d9f2fa"},"encoding":{"x":{"field":"f","type":"quantitative","scale":{"domain":[3.448,3.552],"nice":false,"zero":false},"axis":{"values":[3.45,3.5,3.55],"format":".2f","title":["Frequency","[Hz]"]}},"y":{"field":"v","type":"quantitative","scale":{"domain":[-0.002,0.001],"nice":false,"zero":false},"axis":{"values":[0.001,0,-0.001,-0.002],"format":".3f","title":null}},"y2":{"datum":-0.001}}},
{"data":{"name":"gd"},"transform":[{"filter":"datum.p==8"}],"mark":{"type":"line","color":"#28576e","strokeWidth":1.3},"encoding":{"x":{"field":"f","type":"quantitative","axis":{"values":[3.45,3.5,3.55],"format":".2f","title":["Frequency","[Hz]"]}},"y":{"field":"v","type":"quantitative","axis":{"values":[0.001,0,-0.001,-0.002],"format":".3f","title":null}}}},
{"data":{"values":[{}]},"mark":{"type":"text","text":"GrpDel=-0.57 ns","align":"left","baseline":"alphabetic","dx":2,"dy":-2},"encoding":{"x":{"datum":3.448,"axis":{"values":[3.45,3.5,3.55],"format":".2f","title":["Frequency","[Hz]"]}},"y":{"datum":-0.002,"axis":{"values":[0.001,0,-0.001,-0.002],"format":".3f","title":null}}}},
{"data":{"values":[{}]},"mark":{"type":"text","text":"1e9","align":"right","baseline":"middle","fontSize":10,"dx":-5,"dy":28},"encoding":{"x":{"datum":3.552,"axis":{"values":[3.45,3.5,3.55],"format":".2f","title":["Frequency","[Hz]"]}},"y":{"datum":-0.002,"axis":{"values":[0.001,0,-0.001,-0.002],"format":".3f","title":null}}}}]}
]
}
